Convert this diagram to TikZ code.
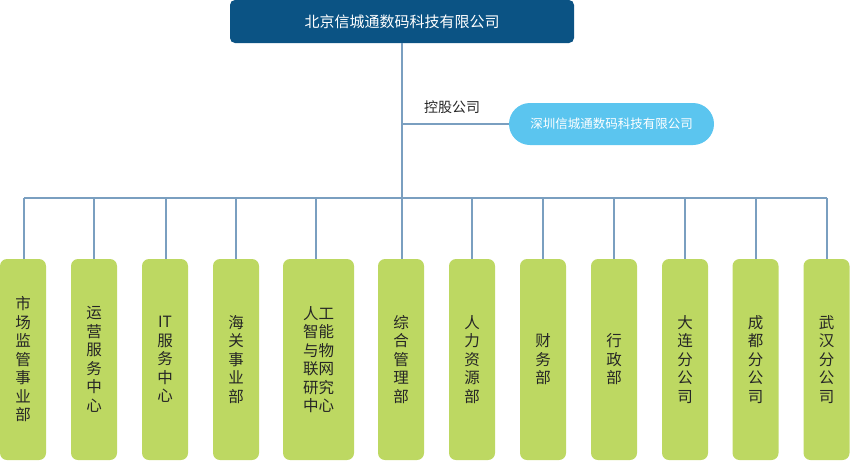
\documentclass[tikz,border=0pt]{standalone}
\usepackage{fontspec}
\newfontfamily\cjk{Noto Sans CJK SC}
\definecolor{topblue}{HTML}{0B5384}
\definecolor{subblue}{HTML}{5BC5EF}
\definecolor{dgreen}{HTML}{BDD862}
\definecolor{linec}{HTML}{7A9FC0}
\tikzset{
  topbox/.style={fill=topblue, rounded corners=5pt, minimum width=344pt, minimum height=43pt, text=white, font={\cjk\fontsize{15}{18}\selectfont}, inner sep=0pt},
  subbox/.style={fill=subblue, rounded corners=21pt, minimum width=205pt, minimum height=42pt, text=white, font={\cjk\fontsize{12.5}{15}\selectfont}, inner sep=0pt},
  dept/.style={fill=dgreen, rounded corners=7pt, minimum width=46pt, minimum height=201pt, align=center, text=black!85, font={\cjk\fontsize{15.5}{18.5}\selectfont}, inner sep=0pt},
  conn/.style={draw=linec, line width=1.3pt},
  lbl/.style={font={\cjk\fontsize{14}{16}\selectfont}, text=black!85, inner sep=0pt}
}
\begin{document}
\begin{tikzpicture}[x=1pt,y=-1pt]
\useasboundingbox (0,0) rectangle (850,461);
\node[topbox] (top) at (402,21.5) {北京信城通数码科技有限公司};
\node[subbox] (sub) at (611.5,124) {深圳信城通数码科技有限公司};
\node[lbl] (ctl) at (452,107) {控股公司};
\coordinate (bus) at (402,198);
\node[dept] (b1) at (23,359.5) {市\\场\\监\\管\\事\\业\\部};
\node[dept] (b2) at (94,359.5) {运\\营\\服\\务\\中\\心};
\node[dept] (b3) at (165,359.5) {IT\\服\\务\\中\\心};
\node[dept] (b4) at (236,359.5) {海\\关\\事\\业\\部};
\node[dept, minimum width=71pt] (b5) at (318.5,359.5) {人工\\智能\\与物\\联网\\研究\\中心};
\node[dept] (b6) at (401,359.5) {综\\合\\管\\理\\部};
\node[dept] (b7) at (472,359.5) {人\\力\\资\\源\\部};
\node[dept] (b8) at (543,359.5) {财\\务\\部};
\node[dept] (b9) at (614,359.5) {行\\政\\部};
\node[dept] (b10) at (685,359.5) {大\\连\\分\\公\\司};
\node[dept] (b11) at (755.5,359.5) {成\\都\\分\\公\\司};
\node[dept] (b12) at (826.5,359.5) {武\\汉\\分\\公\\司};
\draw[conn] (top.south) -- (top.south |- bus);
\draw[conn] (top.south |- sub.west) -- (sub.west);
\draw[conn] ([xshift=1pt]b1.north |- bus) -- ([xshift=0.5pt]b12.north |- bus);
\foreach \i/\dx in {1/1,2/0,3/1,4/0,5/-2.5,6/1,7/0,8/0,9/0,10/0,11/0.5,12/0.5}{
  \draw[conn] ([xshift=\dx pt]b\i.north) -- ([xshift=\dx pt]b\i.north |- bus);
}
\end{tikzpicture}
\end{document}
